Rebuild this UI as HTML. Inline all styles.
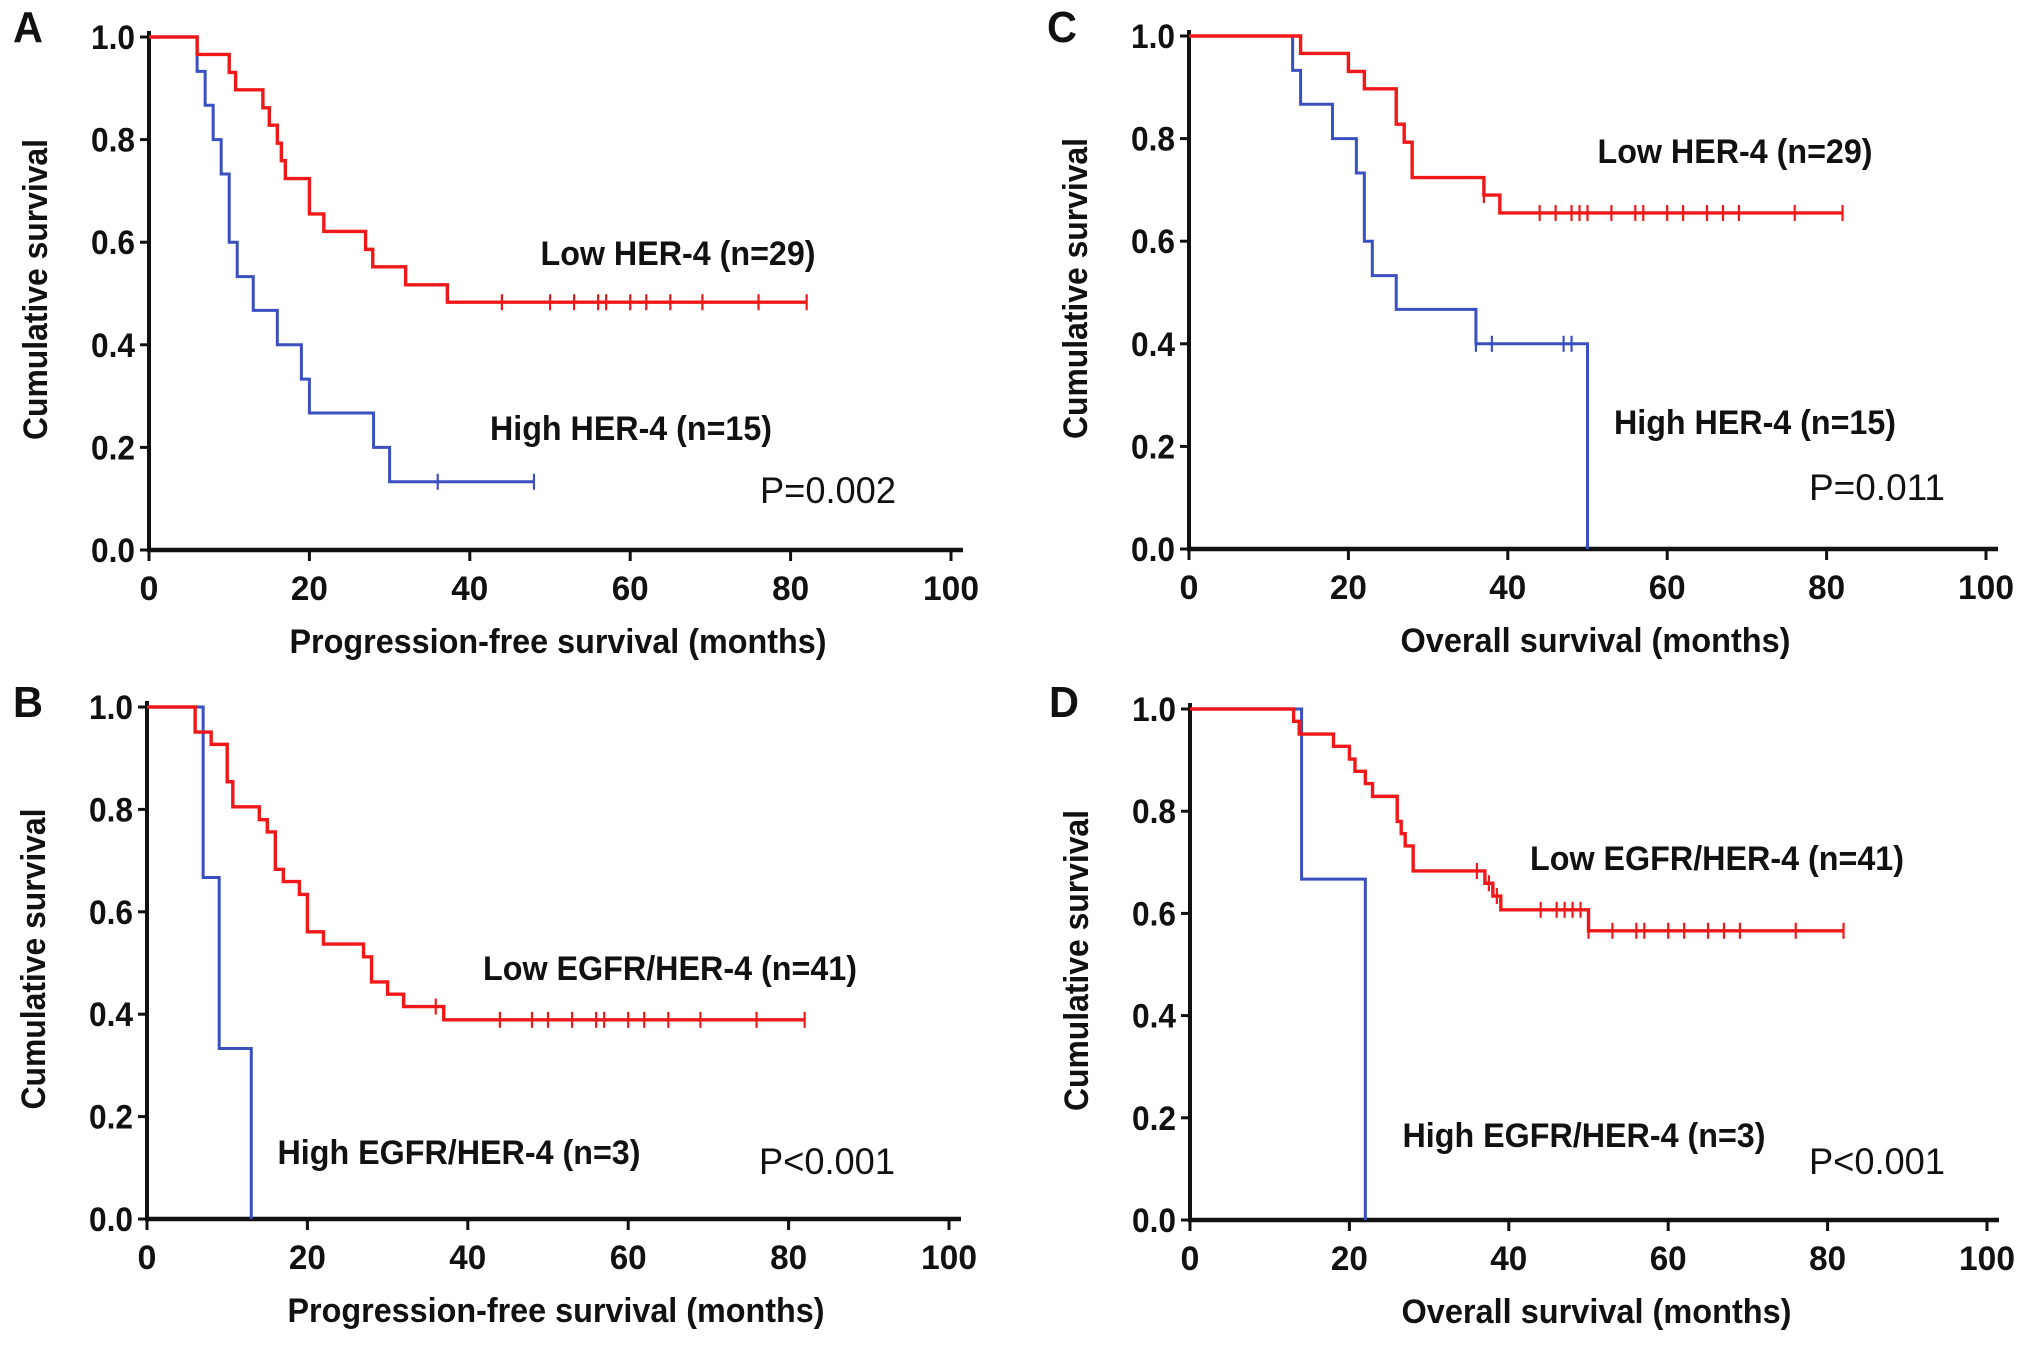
<!DOCTYPE html>
<html><head><meta charset="utf-8"><style>
html,body{margin:0;padding:0;background:#fff}
svg{display:block}
text{font-family:"Liberation Sans",Arial,sans-serif}
</style></head><body>
<svg id="fig" width="2031" height="1346" viewBox="0 0 2031 1346" xmlns="http://www.w3.org/2000/svg"></svg>
<script>
// ---- data (months, survival) ----
const aLowTimes=[6,10,10.8,14.2,15,16,16.5,17,20,21.8,27,27.9,32,37.2];
const aLowSurv=[0.966,0.931,0.897,0.862,0.828,0.793,0.759,0.724,0.655,0.621,0.586,0.552,0.517,0.483];
const aLowCens=[44,50,53,56,57,60,62,65,69,76,82];
const aLowEnd=82;
const aHighTimes=[6,7,8,9,10,11,13,16,19,20,28,30];
const aHighSurv=[0.933,0.867,0.8,0.733,0.6,0.533,0.467,0.4,0.333,0.267,0.2,0.133];
const aHighCens=[36,48];
const aHighEnd=48;

const bLowTimes=[6,8,10,10.7,14,15,16,17,19,20,22,27,28,30,32,37];
const bLowSurv=[0.951,0.927,0.854,0.805,0.78,0.756,0.683,0.659,0.634,0.561,0.537,0.512,0.463,0.439,0.415,0.389];
const bLowCens=[36,44,48,50,53,56,57,60,62,65,69,76,82];
const bLowEnd=82;
const bHighTimes=[7,9,13];
const bHighSurv=[0.667,0.333,0];
const bHighCens=[];
const bHighEnd=13;

const cLowTimes=[14,20,22,26,27,28,37,39];
const cLowSurv=[0.966,0.931,0.897,0.828,0.793,0.724,0.69,0.655];
const cLowCens=[37,44,46,48,49,50,53,56,57,60,62,65,67,69,76,82];
const cLowEnd=82;
const cHighTimes=[13,14,18,21,22,23,26,36,50];
const cHighSurv=[0.933,0.867,0.8,0.733,0.6,0.533,0.467,0.4,0];
const cHighCens=[36,38,47,48];
const cHighEnd=50;

const dLowTimes=[13,13.7,18,20,20.7,22,22.9,26,26.5,27,28,37,38,39,50];
const dLowSurv=[0.976,0.951,0.927,0.902,0.878,0.854,0.829,0.78,0.756,0.732,0.683,0.659,0.634,0.607,0.566];
const dLowCens=[36,37.5,38.5,44,46,47,48,49,50,53,56,57,60,62,65,67,69,76,82];
const dLowEnd=82;
const dHighTimes=[14,22];
const dHighSurv=[0.667,0];
const dHighCens=[];
const dHighEnd=22;

const xTicks=[0,20,40,60,80,100];
const yTicks=[0,0.2,0.4,0.6,0.8,1.0];
const yTickLabels=["0.0","0.2","0.4","0.6","0.8","1.0"];

const NS="http://www.w3.org/2000/svg";
const svg=document.getElementById('fig');
function mk(tag,attrs,parent){const e=document.createElementNS(NS,tag);for(const k in attrs)e.setAttribute(k,attrs[k]);(parent||svg).appendChild(e);return e;}
function txt(parent,s,x,y,size,weight,anchor,len,rot){
  const t=mk('text',{x:x,y:y,'font-size':size,'font-weight':weight,'text-anchor':anchor,fill:'#111'},parent);
  if(len){t.setAttribute('textLength',len);t.setAttribute('lengthAdjust','spacingAndGlyphs');}
  if(rot)t.setAttribute('transform','rotate(-90 '+x+' '+y+')');
  t.textContent=s;return t;
}

const panels=[
 {id:'a',letter:'A',x0:149,x100:951,y0:550,y1:37,lx:28,ly:42,xt:'Progression-free survival (months)',
  low:[aLowTimes,aLowSurv,aLowCens,aLowEnd],high:[aHighTimes,aHighSurv,aHighCens,aHighEnd],
  lowLab:['Low HER-4 (n=29)',678,265,275],highLab:['High HER-4 (n=15)',631,440,282],p:['P=0.002',828,503,136]},
 {id:'b',letter:'B',x0:147,x100:949,y0:1219,y1:707,lx:28,ly:717,xt:'Progression-free survival (months)',
  low:[bLowTimes,bLowSurv,bLowCens,bLowEnd],high:[bHighTimes,bHighSurv,bHighCens,bHighEnd],
  lowLab:['Low EGFR/HER-4 (n=41)',670,980,374],highLab:['High EGFR/HER-4 (n=3)',459,1164,363],p:['P<0.001',827,1174,136]},
 {id:'c',letter:'C',x0:1189,x100:1986,y0:549,y1:36,lx:1062,ly:42,xt:'Overall survival (months)',
  low:[cLowTimes,cLowSurv,cLowCens,cLowEnd],high:[cHighTimes,cHighSurv,cHighCens,cHighEnd],
  lowLab:['Low HER-4 (n=29)',1735,163,275],highLab:['High HER-4 (n=15)',1755,434,282],p:['P=0.011',1877,500,136]},
 {id:'d',letter:'D',x0:1190,x100:1987,y0:1220,y1:709,lx:1064,ly:717,xt:'Overall survival (months)',
  low:[dLowTimes,dLowSurv,dLowCens,dLowEnd],high:[dHighTimes,dHighSurv,dHighCens,dHighEnd],
  lowLab:['Low EGFR/HER-4 (n=41)',1717,870,374],highLab:['High EGFR/HER-4 (n=3)',1584,1147,363],p:['P<0.001',1877,1174,136]}
];

function curve(g,p,series,color,w,name){
  const sx=m=>p.x0+(p.x100-p.x0)*m/100, sy=v=>p.y0-(p.y0-p.y1)*v;
  const [times,surv,cens,end]=series;
  let d='M'+sx(0)+' '+sy(1);
  for(let i=0;i<times.length;i++){d+=' H'+sx(times[i])+' V'+sy(surv[i]);}
  if(end>times[times.length-1])d+=' H'+sx(end);
  const path=mk('path',{d:d,fill:'none',stroke:color,'stroke-width':w},g);
  
  
  const survAt=m=>{let v=1;for(let i=0;i<times.length;i++){if(times[i]<=m)v=surv[i];}return v;};
  cens.forEach(c=>{
    const v=survAt(c);
    const l=mk('line',{x1:sx(c),x2:sx(c),y1:sy(v)-8,y2:sy(v)+8,stroke:color,'stroke-width':2.2},g);
    
    
  });
}

panels.forEach(p=>{
  const g=mk('g',{});
  
  
  const sx=m=>p.x0+(p.x100-p.x0)*m/100, sy=v=>p.y0-(p.y0-p.y1)*v;
  const L=txt(g,p.letter,p.lx,p.ly,44,'bold','middle',30);
  
  
  const ya=mk('line',{x1:p.x0,x2:p.x0,y1:p.y1-6,y2:p.y0+2,stroke:'#111','stroke-width':4},g);
  
  
  const xa=mk('line',{x1:p.x0-2,x2:p.x100+12,y1:p.y0,y2:p.y0,stroke:'#111','stroke-width':4.5},g);
  
  
  yTicks.forEach((v,i)=>{
    mk('line',{x1:p.x0-9,x2:p.x0,y1:sy(v),y2:sy(v),stroke:'#111','stroke-width':3},g);
    const t=txt(g,yTickLabels[i],p.x0-14,sy(v)+12,34,'bold','end',44);
    
    
  });
  xTicks.forEach(m=>{
    mk('line',{x1:sx(m),x2:sx(m),y1:p.y0,y2:p.y0+11,stroke:'#111','stroke-width':3},g);
    const t=txt(g,String(m),sx(m),p.y0+50,34,'bold','middle',m>=100?56:(m>0?37:null));
    
    
  });
  const xt=txt(g,p.xt,(p.x0+p.x100)/2+8,p.y0+103,34,'bold','middle',p.xt.length>30?537:390);
  
  
  const yt=txt(g,'Cumulative survival',p.x0-102,(p.y0+p.y1)/2-4,34,'bold','middle',301,true);
  
  
  curve(g,p,p.high,'#3a4fc0',3,'high-group');
  curve(g,p,p.low,'#f01818',3.4,'low-group');
  const ll=txt(g,p.lowLab[0],p.lowLab[1],p.lowLab[2],34,'bold','middle',p.lowLab[3]);
  
  
  const hl=txt(g,p.highLab[0],p.highLab[1],p.highLab[2],34,'bold','middle',p.highLab[3]);
  
  
  const pv=txt(g,p.p[0],p.p[1],p.p[2],37,'normal','middle',p.p[3]);
  
  
});
</script>
</body></html>
